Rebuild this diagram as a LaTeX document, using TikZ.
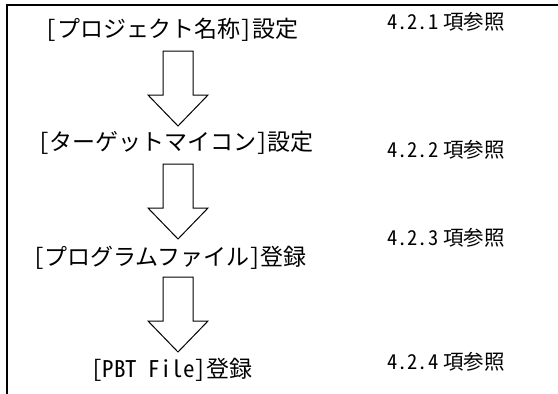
\documentclass[tikz,border=0pt]{standalone}
\usepackage{fontspec}
\setmainfont{Noto Sans CJK JP}
\newfontfamily\hw[CharacterWidth=Half]{Noto Sans CJK JP}
\usetikzlibrary{calc}
\tikzset{
  lbl/.style={font=\fontsize{23}{25}\selectfont, inner sep=0pt},
  ref/.style={font=\fontsize{20.5}{22}\selectfont, inner sep=0pt, anchor=west},
  blockarrow/.style={draw=black, line width=1pt, fill=white, line join=miter},
  frame/.style={line width=2.2pt}
}
\newcommand{\downarrowshape}[1]{%
  \draw[blockarrow] ($(#1)+(-15,0)$) -- ($(#1)+(15,0)$) -- ($(#1)+(15,44)$) -- ($(#1)+(30,44)$)
    -- ($(#1)+(0,75)$) -- ($(#1)+(-30,44)$) -- ($(#1)+(-15,44)$) -- cycle;}
\begin{document}
\begin{tikzpicture}[x=1pt,y=-1pt]
\useasboundingbox (0,0) rectangle (558,394);
\coordinate (tl) at (7,5);
\coordinate (tr) at (558,5);
\coordinate (bl) at (7,394);
\draw[frame] (tr) -- (tl) -- (bl);
% steps
\node[lbl] (s1) at (172,30) {{\hw[}プロジェクト名称{\hw]}設定};
\node[lbl] (s2) at (176,143) {{\hw[}ターゲットマイコン{\hw]}設定};
\node[lbl] (s3) at (170,258) {{\hw[}プログラムファイル{\hw]}登録};
\node[lbl] (s4) at (172,370) {{\hw[PBT File]}登録};
% references
\node[ref] (r1) at (387,22) {{\hw 4.2.1}\hspace{5pt}項参照};
\node[ref] (r2) at (387,150) {{\hw 4.2.2}\hspace{5pt}項参照};
\node[ref] (r3) at (387,238) {{\hw 4.2.3}\hspace{5pt}項参照};
\node[ref] (r4) at (387,362) {{\hw 4.2.4}\hspace{5pt}項参照};
% arrows
\coordinate (a1) at (178,51);
\coordinate (a2) at (178,164);
\coordinate (a3) at (178,277);
\downarrowshape{a1}
\downarrowshape{a2}
\downarrowshape{a3}
\end{tikzpicture}
\end{document}
